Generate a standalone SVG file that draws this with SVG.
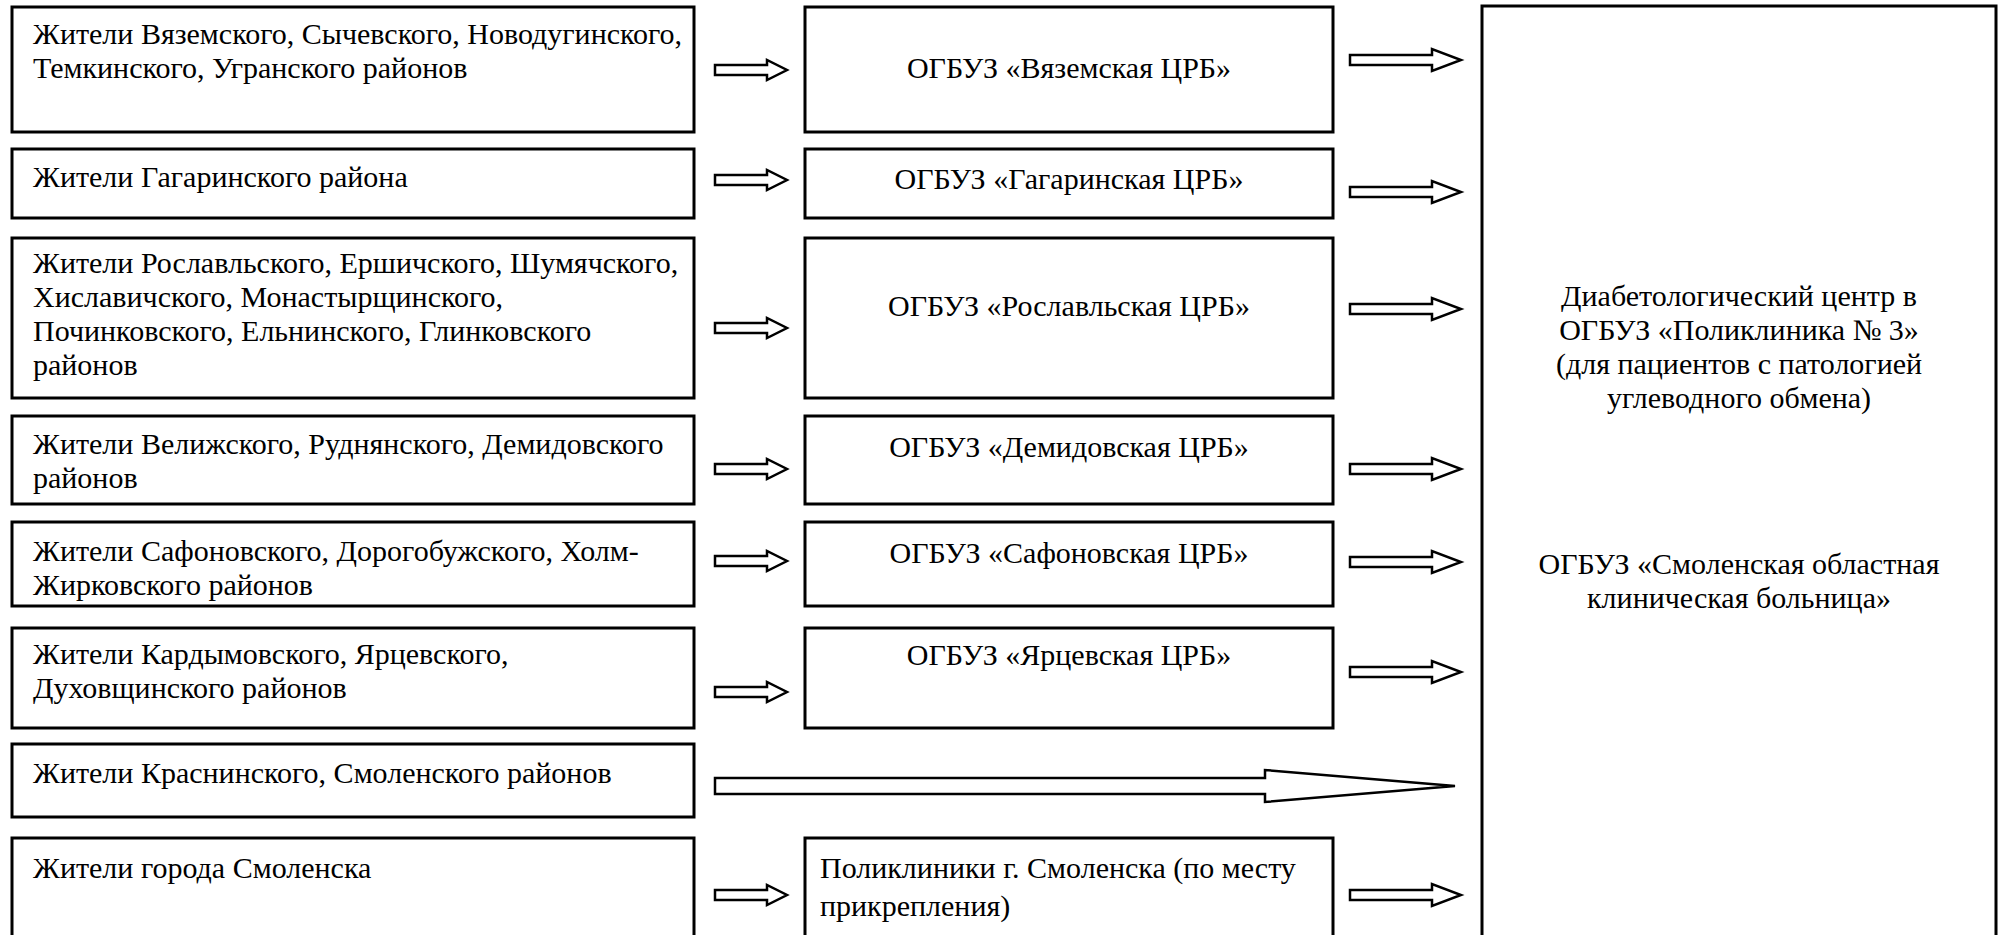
<svg xmlns="http://www.w3.org/2000/svg" xmlns:xlink="http://www.w3.org/1999/xlink" width="2001" height="935" viewBox="0 0 2001 935" font-family="Liberation Serif, Times New Roman, Times, DejaVu Serif, serif">
<style>
.box{fill:#fff;stroke:#000;stroke-width:3}
.t{font-size:30px;fill:#000}
.c{text-anchor:middle}
.arr{fill:#fff;stroke:#000;stroke-width:2.5;stroke-linejoin:miter}
</style>
<defs>
<path id="aL" class="arr" d="M0,-5 H52 V-10 L72,0 L52,10 V5 H0 Z"/>
<path id="aR" class="arr" d="M0,-5 H82 V-11 L111,0 L82,11 V5 H0 Z"/>
</defs>
<rect width="2001" height="935" fill="#fff"/>

<g id="n-right">
<rect class="box" x="1482" y="6" width="514" height="940"/>
<text class="t c" x="1739" y="306">Диабетологический центр в</text>
<text class="t c" x="1739" y="340">ОГБУЗ «Поликлиника № 3»</text>
<text class="t c" x="1739" y="374">(для пациентов с патологией</text>
<text class="t c" x="1739" y="408">углеводного обмена)</text>
<text class="t c" x="1739" y="574">ОГБУЗ «Смоленская областная</text>
<text class="t c" x="1739" y="608">клиническая больница»</text>
</g>

<g id="n-l1"><rect class="box" x="12" y="7" width="682" height="125"/>
<text class="t" x="33" y="44">Жители Вяземского, Сычевского, Новодугинского,</text>
<text class="t" x="33" y="78">Темкинского, Угранского районов</text></g>
<g id="n-l2"><rect class="box" x="12" y="149" width="682" height="69"/>
<text class="t" x="33" y="187">Жители Гагаринского района</text></g>
<g id="n-l3"><rect class="box" x="12" y="238" width="682" height="160"/>
<text class="t" x="33" y="273">Жители Рославльского, Ершичского, Шумячского,</text>
<text class="t" x="33" y="307">Хиславичского, Монастырщинского,</text>
<text class="t" x="33" y="341">Починковского, Ельнинского, Глинковского</text>
<text class="t" x="33" y="375">районов</text></g>
<g id="n-l4"><rect class="box" x="12" y="416" width="682" height="88"/>
<text class="t" x="33" y="454">Жители Велижского, Руднянского, Демидовского</text>
<text class="t" x="33" y="488">районов</text></g>
<g id="n-l5"><rect class="box" x="12" y="522" width="682" height="84"/>
<text class="t" x="33" y="561">Жители Сафоновского, Дорогобужского, Холм-</text>
<text class="t" x="33" y="595">Жирковского районов</text></g>
<g id="n-l6"><rect class="box" x="12" y="628" width="682" height="100"/>
<text class="t" x="33" y="664">Жители Кардымовского, Ярцевского,</text>
<text class="t" x="33" y="698">Духовщинского районов</text></g>
<g id="n-l7"><rect class="box" x="12" y="744" width="682" height="73"/>
<text class="t" x="33" y="783">Жители Краснинского, Смоленского районов</text></g>
<g id="n-l8"><rect class="box" x="12" y="838" width="682" height="110"/>
<text class="t" x="33" y="878">Жители города Смоленска</text></g>

<g id="n-m1"><rect class="box" x="805" y="7" width="528" height="125"/>
<text class="t c" x="1069" y="78">ОГБУЗ «Вяземская ЦРБ»</text></g>
<g id="n-m2"><rect class="box" x="805" y="149" width="528" height="69"/>
<text class="t c" x="1069" y="189">ОГБУЗ «Гагаринская ЦРБ»</text></g>
<g id="n-m3"><rect class="box" x="805" y="238" width="528" height="160"/>
<text class="t c" x="1069" y="316">ОГБУЗ «Рославльская ЦРБ»</text></g>
<g id="n-m4"><rect class="box" x="805" y="416" width="528" height="88"/>
<text class="t c" x="1069" y="457">ОГБУЗ «Демидовская ЦРБ»</text></g>
<g id="n-m5"><rect class="box" x="805" y="522" width="528" height="84"/>
<text class="t c" x="1069" y="563">ОГБУЗ «Сафоновская ЦРБ»</text></g>
<g id="n-m6"><rect class="box" x="805" y="628" width="528" height="100"/>
<text class="t c" x="1069" y="665">ОГБУЗ «Ярцевская ЦРБ»</text></g>
<g id="n-m8"><rect class="box" x="805" y="838" width="528" height="110"/>
<text class="t" x="820" y="878">Поликлиники г. Смоленска (по месту</text>
<text class="t" x="820" y="916">прикрепления)</text></g>

<g id="connectors">
<use xlink:href="#aL" x="715" y="70"/>
<use xlink:href="#aL" x="715" y="180"/>
<use xlink:href="#aL" x="715" y="328"/>
<use xlink:href="#aL" x="715" y="469"/>
<use xlink:href="#aL" x="715" y="561"/>
<use xlink:href="#aL" x="715" y="692"/>
<use xlink:href="#aL" x="715" y="895"/>
<use xlink:href="#aR" x="1350" y="60"/>
<use xlink:href="#aR" x="1350" y="192"/>
<use xlink:href="#aR" x="1350" y="309"/>
<use xlink:href="#aR" x="1350" y="469"/>
<use xlink:href="#aR" x="1350" y="562"/>
<use xlink:href="#aR" x="1350" y="672"/>
<use xlink:href="#aR" x="1350" y="895"/>
<path class="arr" d="M715,778 H1265 V770 L1455,786 L1265,802 V794 H715 Z"/>
</g>
</svg>
